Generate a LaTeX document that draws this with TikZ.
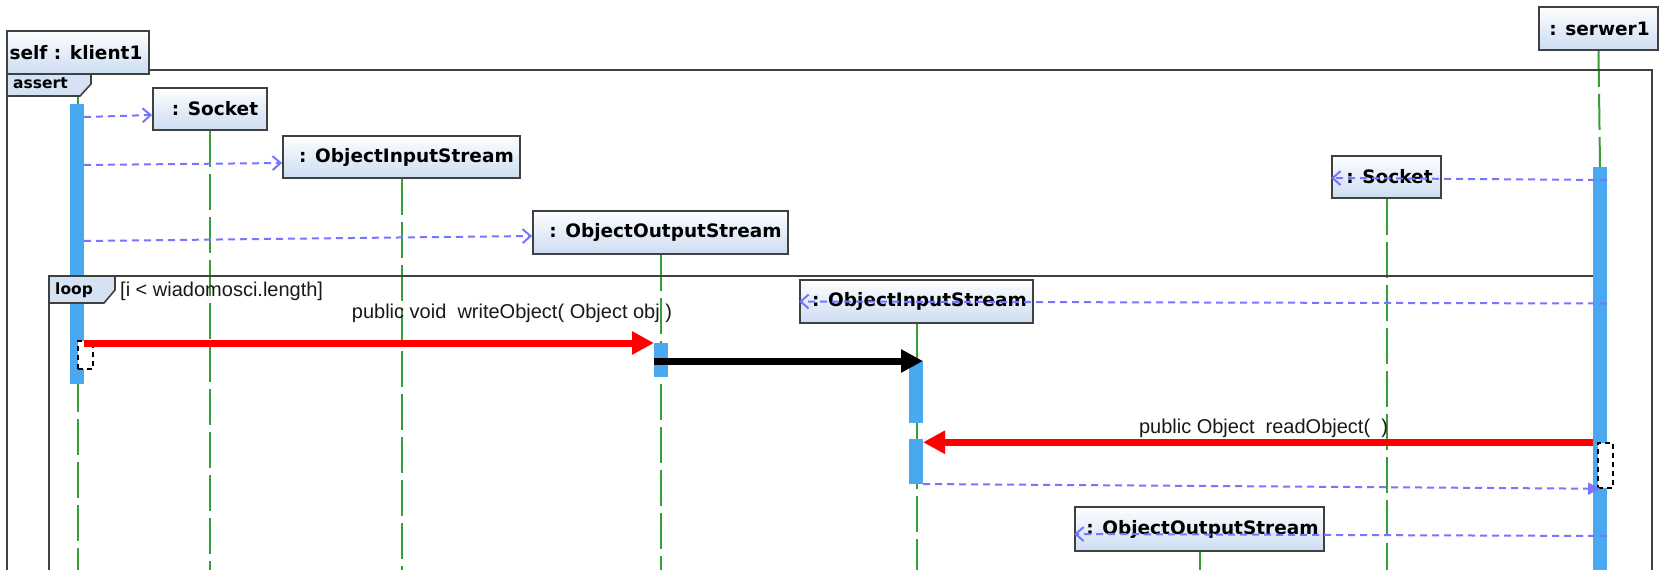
\documentclass[tikz,border=0pt]{standalone}
\usepackage{fontspec}
\setmainfont{Liberation Sans}
\newfontfamily\djv{DejaVu Sans}
\usetikzlibrary{arrows.meta}

\definecolor{lifegreen}{RGB}{56,158,56}
\definecolor{actblue}{RGB}{74,168,240}
\definecolor{msgblue}{RGB}{118,118,255}
\definecolor{boxtop}{RGB}{253,254,255}
\definecolor{boxbot}{RGB}{204,221,242}
\definecolor{tabblue}{RGB}{212,226,243}
\definecolor{framegray}{RGB}{64,64,64}
\definecolor{txt}{RGB}{25,25,25}

\pgfdeclarelayer{lines}
\pgfdeclarelayer{bars}
\pgfdeclarelayer{tabs}
\pgfsetlayers{lines,bars,tabs,main}

% pushes a box label to the right inside its box
\newcommand{\lpad}[1]{\hspace*{#1pt}}

\begin{document}
\begin{tikzpicture}[x=1pt,y=-1pt,
  objbox/.style={draw=framegray, line width=1.8pt, top color=boxtop,
    bottom color=boxbot, minimum height=43pt, inner sep=0pt,
    font=\djv\bfseries\fontsize{18.5}{20}\selectfont},
  actbar/.style={fill=actblue, draw=none, minimum width=14pt, inner sep=0pt, outer sep=0pt},
  lifeline/.style={draw=lifegreen, line width=2pt, dash pattern=on 36pt off 7pt},
  framebox/.style={draw=framegray, line width=2pt},
  tabshape/.style={draw=framegray, line width=1.6pt, fill=tabblue},
  tabtext/.style={font=\djv\bfseries\fontsize{15.5}{17}\selectfont, anchor=west, inner sep=0pt},
  msg/.style={draw=msgblue, line width=2pt, dash pattern=on 7pt off 5pt,
    -{Straight Barb[length=8pt,width=14pt]}},
  retmsg/.style={draw=msgblue, line width=2pt, dash pattern=on 7pt off 5pt,
    -{Triangle[length=12pt,width=12pt]}},
  call/.style={line width=7pt, -{Triangle[length=22pt 0,width=22pt 0]}},
  selfbox/.style={draw=black, line width=1.5pt, dash pattern=on 5pt off 4pt,
    fill=white, minimum width=15pt, inner sep=0pt},
  msglabel/.style={font=\fontsize{20}{22}\selectfont, text=txt, inner sep=0pt}
]
\useasboundingbox (0,0) rectangle (1660,570);
\clip (0,0) rectangle (1660,570);
\coordinate (bottom) at (0,580);

% object boxes
\node[objbox, minimum width=142pt] (klient) at (78,52.5) {self : klient1\lpad{4}};
\node[objbox, minimum width=119pt] (serwer) at (1598.5,28.5) {\lpad{2}: serwer1};
\node[objbox, minimum width=114pt, minimum height=42pt] (sock1) at (210,109) {\lpad{10}: Socket};
\node[objbox, minimum width=237pt, minimum height=42pt] (ois1) at (401.5,157) {\lpad{10}: ObjectInputStream};
\node[objbox, minimum width=255pt] (oos1) at (660.5,232.5) {\lpad{10}: ObjectOutputStream};
\node[objbox, minimum width=109pt, minimum height=42pt] (sock2) at (1386.5,177) {\lpad{6}: Socket};
\node[objbox, minimum width=233pt] (ois2) at (916.5,301.5) {\lpad{6}: ObjectInputStream};
\node[objbox, minimum width=249pt, minimum height=44pt] (oos2) at (1199.5,529) {\lpad{6}: ObjectOutputStream};

% activation bars
\begin{pgfonlayer}{bars}
\node[actbar, minimum height=280pt] (kbar) at (77,244) {};
\node[actbar, minimum height=34pt] (oosbar) at (661,360) {};
\node[actbar, minimum height=62pt] (ois2bara) at (916,392) {};
\node[actbar, minimum height=45pt] (ois2barb) at (916,461.5) {};
\node[actbar, minimum height=413pt] (sbar) at (1600,373.5) {};
\end{pgfonlayer}

% lifelines and combined fragment borders
\begin{pgfonlayer}{lines}
\fill[white] (0,0) rectangle (1660,570);
\draw[lifeline] (klient.south) -- (klient.south |- bottom);
\draw[lifeline] (sock1.south) -- (sock1.south |- bottom);
\draw[lifeline] (ois1.south) -- (ois1.south |- bottom);
\draw[lifeline] (oos1.south) -- (oos1.south |- bottom);
\draw[lifeline] (sock2.south) -- (sock2.south |- bottom);
\draw[lifeline] (ois2.south) -- (ois2.south |- bottom);
\draw[lifeline] (oos2.south) -- (oos2.south |- bottom);
\draw[lifeline] (serwer.south) -- (sbar.north);
\draw[framebox] (7,580) -- (7,70) -- (1652,70) -- (1652,580);
\draw[framebox] (49,580) -- (49,276) -- (1600,276) -- (1600,580);
\end{pgfonlayer}

% fragment tabs
\begin{pgfonlayer}{tabs}
\filldraw[tabshape] (7,70) -- (91,70) -- (91,84) -- (80,96) -- (7,96) -- cycle;
\node[tabtext] (asserttxt) at (13,83) {assert};
\filldraw[tabshape] (49,276) -- (115,276) -- (115,290) -- (104,303) -- (49,303) -- cycle;
\node[tabtext] (looptxt) at (55,290) {loop};
\end{pgfonlayer}
\node[msglabel, anchor=west] (guard) at (120,291) {[i < wiadomosci.length]};

% self-call markers
\node[selfbox, minimum height=28pt] (kself) at (85.5,355) {};
\node[selfbox, minimum height=45pt] (sself) at (1605.5,465.5) {};

% creation messages
\draw[msg] ([yshift=-8pt]kbar.east |- sock1.west) -- ([yshift=-6pt]sock1.west);
\draw[msg] ([yshift=-8pt]kbar.east |- ois1.west) -- ([yshift=-6pt]ois1.west);
\draw[msg] ([yshift=-8.5pt]kbar.east |- oos1.west) -- ([yshift=-3.5pt]oos1.west);
\draw[msg] ([yshift=-3pt]sbar.east |- sock2.west) -- ([yshift=-1pt]sock2.west);
\draw[msg] ([yshift=-2pt]sbar.east |- ois2.west) -- (ois2.west);
\draw[msg] ([yshift=-7pt]sbar.east |- oos2.west) -- ([yshift=-5pt]oos2.west);

% calls and return
\draw[call, draw=red, fill=red] (kbar.east |- oosbar.north) -- (oosbar.north west);
\draw[call, draw=black, fill=black] (oosbar.west |- ois2bara.north) -- (ois2bara.north east);
\draw[call, draw=red, fill=red] (sbar.west |- sself.north) -- (ois2barb.east |- sself.north);
\draw[retmsg] (ois2barb.south east) -- (sbar.center |- sself.south);

% message labels
\node[msglabel] (wlabel) at (512,313) {public void\ \ writeObject( Object obj )};
\node[msglabel] (rlabel) at (1263.5,428) {public Object\ \ readObject(\ \ )};
\end{tikzpicture}
\end{document}
